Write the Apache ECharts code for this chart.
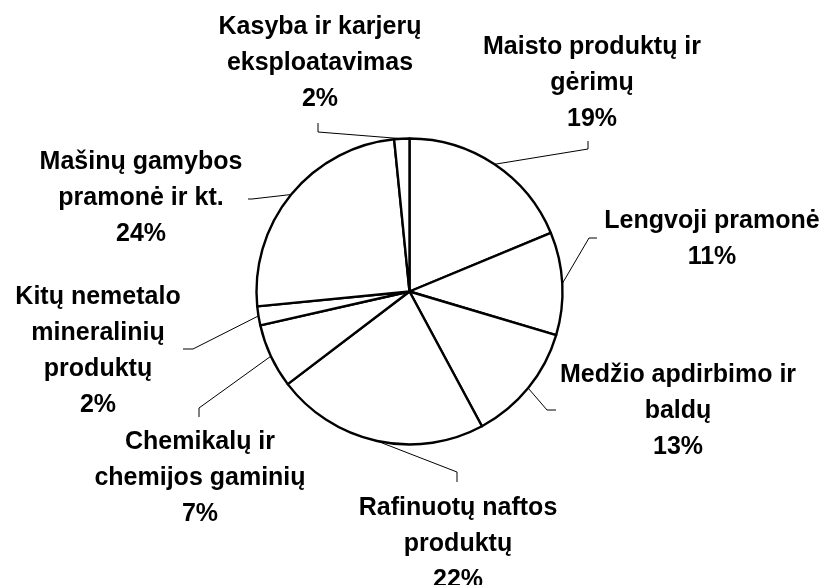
<!DOCTYPE html>
<html>
<head>
<meta charset="utf-8">
<script src="https://cdn.jsdelivr.net/npm/echarts@6/dist/echarts.min.js"></script>
<style>
html,body{margin:0;padding:0;background:#fff;}
#chart{width:826px;height:585px;}
</style>
</head>
<body>
<div id="chart"></div>
<script>
// Categories (clockwise from 12 o'clock)
const categories = [
  'Maisto produktų ir gėrimų',
  'Lengvoji pramonė',
  'Medžio apdirbimo ir baldų',
  'Rafinuotų naftos produktų',
  'Chemikalų ir chemijos gaminių',
  'Kitų nemetalo mineralinių produktų',
  'Mašinų gamybos pramonė ir kt.',
  'Kasyba ir karjerų eksploatavimas'
];
// Label text as wrapped in the picture
const labelLines = [
  'Maisto produktų ir\ngėrimų',
  'Lengvoji pramonė',
  'Medžio apdirbimo ir\nbaldų',
  'Rafinuotų naftos\nproduktų',
  'Chemikalų ir\nchemijos gaminių',
  'Kitų nemetalo\nmineralinių\nproduktų',
  'Mašinų gamybos\npramonė ir kt.',
  'Kasyba ir karjerų\neksploatavimas'
];
// Slice sizes
const values = [18.75, 10.85, 12.55, 22.5, 6.8, 2.0, 24.95, 1.6];
// Percent labels as printed
const percentLabels = ['19%', '11%', '13%', '22%', '7%', '2%', '24%', '2%'];

// Label placement (layout only): label centre, leader elbow, leader end
const labelPos = [
  {x: 592, y: 83,  elbow: [588, 149], end: [588, 141]},
  {x: 712, y: 239, elbow: [589, 238], end: [597, 238]},
  {x: 678, y: 411, elbow: [547, 410], end: [556, 410]},
  {x: 458, y: 544, elbow: [457, 472], end: [457, 482]},
  {x: 200, y: 478, elbow: [199, 408], end: [199, 417]},
  {x: 98,  y: 351, elbow: [193, 349], end: [183, 349]},
  {x: 141, y: 198, elbow: [252, 199], end: [248, 199]},
  {x: 320, y: 63,  elbow: [318, 132], end: [318, 123]}
];

const chart = echarts.init(document.getElementById('chart'), null, {renderer: 'canvas'});
chart.setOption({
  backgroundColor: '#ffffff',
  animation: false,
  series: [{
    type: 'pie',
    center: [409.5, 291.5],
    radius: 153,
    startAngle: 90,
    clockwise: true,
    avoidLabelOverlap: false,
    silent: true,
    data: categories.map((c, i) => ({name: c, value: values[i]})),
    itemStyle: {color: '#ffffff', borderColor: '#000000', borderWidth: 2.4},
    label: {
      show: true,
      position: 'outside',
      formatter: p => labelLines[p.dataIndex] + '\n' + percentLabels[p.dataIndex],
      color: '#000000',
      fontFamily: 'Liberation Sans, Arial, sans-serif',
      fontWeight: 'bold',
      fontSize: 25,
      lineHeight: 36,
      align: 'center'
    },
    labelLine: {
      show: true,
      length: 15,
      length2: 10,
      smooth: false,
      lineStyle: {color: '#000000', width: 1}
    },
    labelLayout: function (params) {
      const lp = labelPos[params.dataIndex];
      const start = params.labelLinePoints ? params.labelLinePoints[0] : lp.elbow;
      return {
        x: lp.x,
        y: lp.y,
        align: 'center',
        verticalAlign: 'middle',
        labelLinePoints: [start, lp.elbow, lp.end]
      };
    },
    emphasis: {disabled: true}
  }]
});
</script>
</body>
</html>
